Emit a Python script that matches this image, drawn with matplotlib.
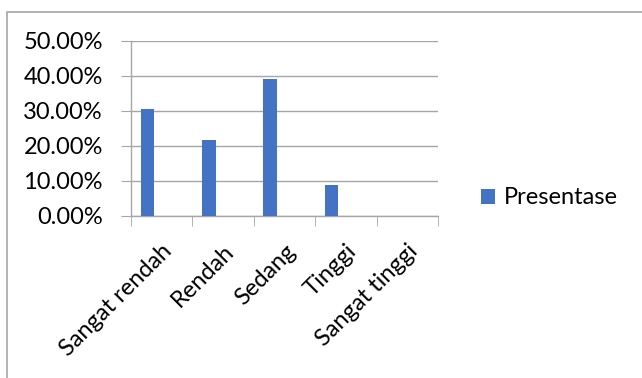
import matplotlib
matplotlib.use("Agg")
import matplotlib.pyplot as plt
from matplotlib.patches import Rectangle
from matplotlib.ticker import FuncFormatter, FixedLocator

categories = ["Sangat rendah", "Rendah", "Sedang", "Tinggi", "Sangat tinggi"]
presentase = [30.43, 21.74, 39.13, 8.70, 0.0]
series_name = "Presentase"

plt.rcParams['font.family'] = ['Lato', 'DejaVu Sans']
FS = 17

fig = plt.figure(figsize=(6.42, 3.78), dpi=100)
fig.patches.append(Rectangle((7/642, -0.1), 2, 1 - 12/378 + 0.1, transform=fig.transFigure,
                             fill=False, edgecolor="#a6a6a6", linewidth=1.2))

ax = fig.add_axes([130.7/642, 1 - 215.7/378, (438 - 130.7)/642, (215.7 - 40.7)/378])
grid_c = "#a6a6a6"
x = [i + 0.5 - 0.23 for i in range(len(categories))]
ax.bar(x, presentase, width=0.22, color="#4472C4", label=series_name, zorder=3)

ax.set_xlim(0, 5)
ax.set_ylim(0, 50)
ax.set_yticks([0, 10, 20, 30, 40, 50])
ax.yaxis.set_major_formatter(FuncFormatter(lambda v, p: f"{v:.2f}%"))
ax.grid(axis='y', color=grid_c, linewidth=1.0, zorder=0)
ax.tick_params(axis='y', length=7, color=grid_c, labelsize=FS, pad=13)

ax.xaxis.set_major_locator(FixedLocator([i + 0.5 for i in range(len(categories))]))
ax.set_xticklabels(categories, rotation=45, ha='right', rotation_mode='anchor', fontsize=FS)
ax.tick_params(axis='x', which='major', length=0, pad=18)
ax.xaxis.set_minor_locator(FixedLocator([0, 1, 2, 3, 4, 5]))
ax.tick_params(axis='x', which='minor', length=7, color=grid_c)

for s in ["top", "right"]:
    ax.spines[s].set_visible(False)
for s in ["left", "bottom"]:
    ax.spines[s].set_color(grid_c)
    ax.spines[s].set_linewidth(1.0)

leg = fig.legend(loc='center left', bbox_to_anchor=(460/642, 1 - 198/378), frameon=False,
                 fontsize=FS, handlelength=0.6, handleheight=0.6, handletextpad=0.35)

fig.savefig("out.png", dpi=100)
